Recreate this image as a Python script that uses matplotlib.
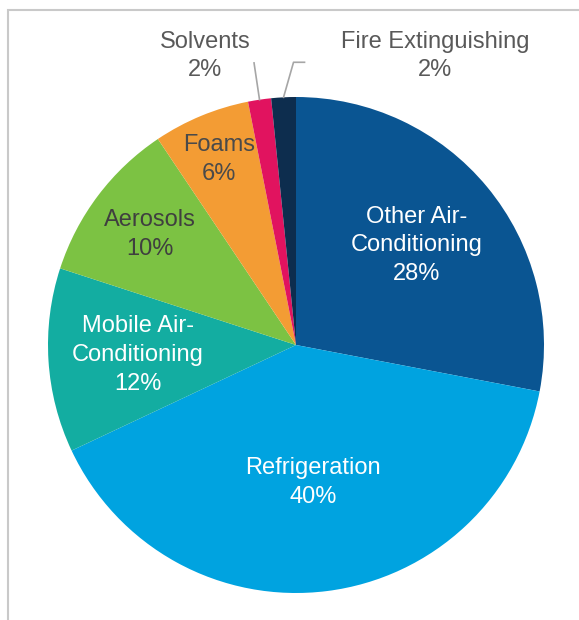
import numpy as np
import matplotlib
matplotlib.use("Agg")
import matplotlib.pyplot as plt
from matplotlib.patches import Rectangle

# данные: доли секторов (по часовой стрелке от верха)
categories = ["Other Air-\nConditioning", "Refrigeration", "Mobile Air-\nConditioning",
              "Aerosols", "Foams", "Solvents", "Fire Extinguishing"]
shares = [28, 40, 12, 10.6, 6.3, 1.5, 1.6]
pct_labels = [28, 40, 12, 10, 6, 2, 2]

colors = ["#0A5592", "#00A3E0", "#13ADA1", "#7CC243", "#F39C34", "#E1135F", "#0D2D4E"]
text_colors = ["white", "white", "white", "#3F3F3F", "#4A4A4A"]
label_dist = [0.63, 0.56, 0.64, 0.74, 0.81]

plt.rcParams["font.family"] = ["Liberation Sans", "DejaVu Sans"]

W, H = 579, 620
fig = plt.figure(figsize=(W / 100, H / 100), dpi=100)
ax = fig.add_axes([0, 0, 1, 1])

cx, cy, R = 296, H - 345, 248
wedges, _ = ax.pie(shares, colors=colors, startangle=90, counterclock=False,
                   center=(cx, cy), radius=R, wedgeprops=dict(linewidth=0))
ax.set_xlim(0, W)
ax.set_ylim(0, H)
ax.set_aspect("equal")
ax.axis("off")

# рамка
fig.patches.append(Rectangle((8 / W, -0.1), 1.2, (H - 10) / H + 0.1, transform=fig.transFigure,
                             fill=False, edgecolor="#C9C9C9", linewidth=1.5))

def mid_angle(w):
    return np.deg2rad((w.theta1 + w.theta2) / 2)

# подписи внутри
for i in range(5):
    a = mid_angle(wedges[i])
    x = cx + label_dist[i] * R * np.cos(a)
    y = cy + label_dist[i] * R * np.sin(a)
    ax.text(x, y, f"{categories[i]}\n{pct_labels[i]}%", ha="center", va="center",
            fontsize=17, color=text_colors[i], linespacing=1.4)

# подписи снаружи с выносками
out_text_x = [205, 435]
out_text_y = H - 56
for k, i in enumerate([5, 6]):
    a = mid_angle(wedges[i])
    x0, y0 = cx + R * np.cos(a), cy + R * np.sin(a)
    if i == 5:
        x1, y1 = cx + 1.15 * R * np.cos(a), cy + 1.15 * R * np.sin(a)
        ax.plot([x0, x1], [y0, y1], color="#A6A6A6", lw=1.2)
    else:
        y1 = cy + 1.14 * R
        x1 = cx - 0.01 * R
        ax.plot([x0, x1, x1 + 11], [y0, y1, y1], color="#A6A6A6", lw=1.2)
    ax.text(out_text_x[k], out_text_y, f"{categories[i]}\n{pct_labels[i]}%", ha="center",
            va="center", fontsize=17, color="#595959", linespacing=1.4)

fig.savefig("out.png", dpi=100)
